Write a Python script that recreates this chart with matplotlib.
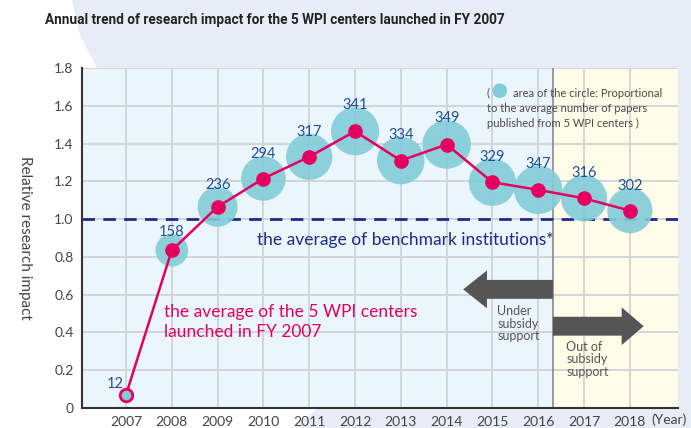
import numpy as np
import matplotlib.pyplot as plt
from matplotlib.patches import Polygon, Rectangle, FancyArrow

# data
years = [2007, 2008, 2009, 2010, 2011, 2012, 2013, 2014, 2015, 2016, 2017, 2018]
impact = [0.07, 0.835, 1.065, 1.215, 1.33, 1.465, 1.31, 1.395, 1.195, 1.155, 1.11, 1.045]
papers = [12, 158, 236, 294, 317, 341, 334, 349, 329, 347, 316, 302]
y_ticks = [0, 0.2, 0.4, 0.6, 0.8, 1.0, 1.2, 1.4, 1.6, 1.8]
y_tick_labels = ['0', '0.2', '0.4', '0.6', '0.8', '1.0', '1.2', '1.4', '1.6', '1.8']

PINK = '#e5005f'
NAVY = '#1f2a8a'
LABEL_BLUE = '#1f4d9b'
TEAL = '#82ccd8'
GRAY = '#555555'
W, H = 691, 428

plt.rcParams['font.family'] = ['Lato', 'DejaVu Sans']

fig = plt.figure(figsize=(6.91, 4.28), dpi=100)
fig.patch.set_facecolor('white')

# lavender backdrop panel (pixel coords -> figure fraction)
pts = [(72, 0), (691, 0), (691, 428), (292, 428), (330, 400), (98, 70), (80, 35)]
fig.patches.append(Polygon([(x / W, 1 - y / H) for x, y in pts], closed=True,
                           transform=fig.transFigure, facecolor='#e8ecf6',
                           edgecolor='none', zorder=-5))

ax = fig.add_axes([82 / W, 1 - 408 / H, (678 - 82) / W, (408 - 68) / H])
ax.set_zorder(1)
ax.set_xlim(2006.04, 2019.05)
ax.set_ylim(0, 1.8)
ax.set_facecolor('#eaf5fc')

split = 2016.32
ax.add_patch(Rectangle((split, 0), 2019.05 - split, 1.8, facecolor='#fffde7',
                       edgecolor='none', zorder=0))
ax.axvline(split, color='#8a8a8a', lw=1.2, zorder=1)

ax.set_xticks(years)
ax.set_xticklabels([str(y) for y in years])
ax.set_yticks(y_ticks)
ax.set_yticklabels(y_tick_labels)
ax.grid(True, color='#d0d2d6', lw=1.3, zorder=0.5)
ax.set_axisbelow(True)
ax.tick_params(length=0, labelsize=10, colors='#444444', pad=6)
for s in ['top', 'right']:
    ax.spines[s].set_visible(False)
for s in ['left', 'bottom']:
    ax.spines[s].set_color('#333333')
    ax.spines[s].set_linewidth(1.5)

ax.set_ylabel('Relative research impact', rotation=270, fontsize=11,
              color='#444444', labelpad=22)
ax.yaxis.set_label_coords(-0.107, 0.5)

# benchmark line
ax.axhline(1.0, color=NAVY, lw=2, ls=(0, (4.5, 3)), zorder=2)
ax.text(2009.86, 0.89, 'the average of benchmark institutions*', color=NAVY,
        fontsize=12.5, va='center', ha='left', zorder=5)

# bubbles
sizes = [p * 3.5 for p in papers]
ax.scatter(years, impact, s=sizes, color=TEAL, alpha=0.9, edgecolors='none', zorder=3)

# line + dots
ax.plot(years, impact, color=PINK, lw=1.8, zorder=4)
ax.plot(years[1:], impact[1:], 'o', color=PINK, ms=9.5, zorder=5)
ax.plot(years[0], impact[0], 'o', mfc=TEAL, mec=PINK, mew=2, ms=9, zorder=5)

# bubble labels
for i, (x, y, p) in enumerate(zip(years, impact, papers)):
    r_px = 24 * np.sqrt(p / 341)
    dx = -8 if i == 0 else 0
    dy = (max(r_px, 9) + 2) * 0.72
    ax.annotate(str(p), (x, y), xytext=(dx, dy), textcoords='offset points',
                ha='center', va='center', color=LABEL_BLUE, fontsize=10.5, zorder=6)

ax.text(2007.83, 0.455, 'the average of the 5 WPI centers\nlaunched in FY 2007',
        color=PINK, fontsize=12.5, va='center', ha='left', linespacing=1.35, zorder=6)

# subsidy arrows
ax.add_patch(FancyArrow(split, 0.628, 2014.36 - split, 0, width=0.1, head_width=0.2,
                        head_length=0.52, length_includes_head=True,
                        color='#555555', lw=0, zorder=6))
ax.add_patch(FancyArrow(split, 0.433, 2018.3 - split, 0, width=0.1, head_width=0.2,
                        head_length=0.48, length_includes_head=True,
                        color='#555555', lw=0, zorder=6))
ax.text(2015.1, 0.545, 'Under\nsubsidy\nsupport', color=GRAY, fontsize=9,
        va='top', ha='left', linespacing=1.05, zorder=6)
ax.text(2016.61, 0.355, 'Out of\nsubsidy\nsupport', color=GRAY, fontsize=9,
        va='top', ha='left', linespacing=1.05, zorder=6)

# legend note
ax.text(2014.88, 1.695, '(        area of the circle: Proportional\n'
        'to the average number of papers\npublished from 5 WPI centers )',
        color='#4a4a4a', fontsize=8, va='top', ha='left', linespacing=1.45, zorder=6)
ax.scatter([2015.16], [1.68], s=110, color=TEAL, edgecolors='none', zorder=6)

fig.text(651 / W, 1 - 420 / H, '(Year)', fontsize=10, color='#444444',
         va='center', ha='left')

fig.text(45 / W, 1 - 20 / H,
         'Annual trend of research impact for the 5 WPI centers launched in FY 2007',
         fontsize=9.8, fontweight='bold', color='#222222', va='center', ha='left',
         family=['Roboto', 'DejaVu Sans'])

fig.savefig('out.png', dpi=100)
